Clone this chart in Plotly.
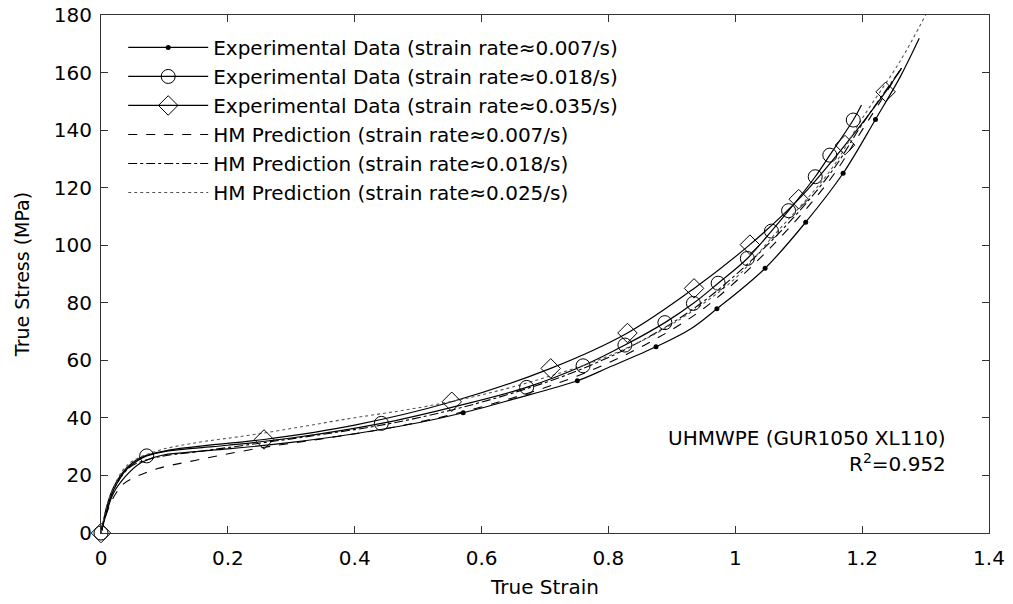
import plotly.graph_objects as go

# ---- Experimental data (strain rate ~0.007/s), solid line with dots
exp007_x = [0, 0.01, 0.02, 0.04, 0.06, 0.08, 0.1, 0.15, 0.2, 0.3, 0.4, 0.5, 0.571, 0.65, 0.751, 0.8, 0.875, 0.93, 0.971, 1.047, 1.111, 1.17, 1.221, 1.26, 1.29]
exp007_y = [0, 8, 14, 20, 24, 26, 27.2, 28.3, 29.2, 31.5, 34.5, 38.3, 41.8, 46.5, 52.9, 57.5, 64.7, 71, 77.9, 92.0, 108.0, 125.0, 143.7, 158.5, 171.9]
exp007_mx = [0.571, 0.751, 0.875, 0.971, 1.047, 1.111, 1.17, 1.221]
exp007_my = [41.8, 52.9, 64.7, 77.9, 92.0, 108.0, 125.0, 143.7]

# ---- Experimental data (strain rate ~0.018/s), solid line with circles
exp018_x = [0, 0.01, 0.02, 0.04, 0.06, 0.072, 0.1, 0.15, 0.2, 0.3, 0.442, 0.55, 0.671, 0.76, 0.826, 0.889, 0.934, 0.973, 1.019, 1.057, 1.084, 1.126, 1.149, 1.186, 1.199]
exp018_y = [0, 9, 15, 22, 25.5, 26.8, 28.3, 29.5, 30.5, 33, 38.1, 43.5, 50.6, 58.1, 65.3, 73.1, 79.8, 86.8, 95.4, 104.9, 112.0, 123.8, 131.3, 143.5, 148.7]
exp018_mx = [0, 0.072, 0.442, 0.671, 0.76, 0.826, 0.889, 0.934, 0.973, 1.019, 1.057, 1.084, 1.126, 1.149, 1.186]
exp018_my = [0, 26.8, 38.1, 50.6, 58.1, 65.3, 73.1, 79.8, 86.8, 95.4, 104.9, 112.0, 123.8, 131.3, 143.5]

# ---- Experimental data (strain rate ~0.035/s), solid line with diamonds
exp035_x = [0, 0.01, 0.02, 0.04, 0.06, 0.1, 0.15, 0.257, 0.4, 0.553, 0.709, 0.83, 0.935, 1.023, 1.1, 1.173, 1.237, 1.262]
exp035_y = [0, 10, 16, 22.5, 26, 28.5, 30, 32.5, 37.5, 45.6, 57.2, 69.5, 85, 100.2, 116, 134.8, 153.3, 161.5]
exp035_mx = [0, 0.257, 0.553, 0.709, 0.83, 0.935, 1.023, 1.1, 1.173, 1.237]
exp035_my = [0, 32.5, 45.6, 57.2, 69.5, 85, 100.2, 116, 134.8, 153.3]

# ---- HM predictions
hm007_x = [0, 0.005, 0.01, 0.02, 0.035, 0.05, 0.088, 0.15, 0.25, 0.35, 0.45, 0.55, 0.65, 0.75, 0.85, 0.95, 1.057, 1.15, 1.2, 1.262]
hm007_y = [0, 4, 7.5, 12.5, 17, 19, 22.3, 25.3, 29.5, 32.8, 36.3, 41, 47, 54.5, 64.5, 78, 99.5, 123, 140, 161.5]

hm018_x = [0, 0.005, 0.01, 0.02, 0.035, 0.05, 0.088, 0.15, 0.25, 0.35, 0.45, 0.55, 0.65, 0.75, 0.85, 0.95, 1.057, 1.15, 1.2, 1.262]
hm018_y = [0, 5, 9, 15, 20.5, 23.5, 26.3, 28.2, 31.2, 34.3, 37.8, 42.6, 48.7, 56.3, 66.5, 80.5, 101.5, 125, 142, 161.5]

hm025_x = [0, 0.005, 0.01, 0.02, 0.035, 0.05, 0.088, 0.14, 0.25, 0.393, 0.5, 0.6, 0.7, 0.8, 0.9, 1.0, 1.057, 1.15, 1.2, 1.26, 1.3]
hm025_y = [0, 5.5, 10, 16, 22, 25, 28.5, 31, 34.5, 39.8, 43.5, 48, 54, 61.5, 72.5, 88.5, 102.5, 126, 144, 164, 180]

legend_names = [
    "Experimental Data (strain rate\u22480.007/s)",
    "Experimental Data (strain rate\u22480.018/s)",
    "Experimental Data (strain rate\u22480.035/s)",
    "HM Prediction (strain rate\u22480.007/s)",
    "HM Prediction (strain rate\u22480.018/s)",
    "HM Prediction (strain rate\u22480.025/s)",
]

x_ticks = [0, 0.2, 0.4, 0.6, 0.8, 1, 1.2, 1.4]
x_tick_labels = ["0", "0.2", "0.4", "0.6", "0.8", "1", "1.2", "1.4"]
y_ticks = [0, 20, 40, 60, 80, 100, 120, 140, 160, 180]

BLACK = "#000000"
fig = go.Figure()

# lines
fig.add_trace(go.Scatter(x=exp007_x, y=exp007_y, mode="lines", line=dict(color=BLACK, width=1.2, shape="spline"), showlegend=False))
fig.add_trace(go.Scatter(x=exp018_x, y=exp018_y, mode="lines", line=dict(color=BLACK, width=1.2, shape="spline"), showlegend=False))
fig.add_trace(go.Scatter(x=exp035_x, y=exp035_y, mode="lines", line=dict(color=BLACK, width=1.2, shape="spline"), showlegend=False))
fig.add_trace(go.Scatter(x=hm007_x, y=hm007_y, mode="lines", line=dict(color=BLACK, width=1.1, dash="dash", shape="spline"), name=legend_names[3], legendrank=4))
fig.add_trace(go.Scatter(x=hm018_x, y=hm018_y, mode="lines", line=dict(color=BLACK, width=1.1, dash="dashdot", shape="spline"), name=legend_names[4], legendrank=5))
fig.add_trace(go.Scatter(x=hm025_x, y=hm025_y, mode="lines", line=dict(color="#555555", width=1.1, dash="dot", shape="spline"), name=legend_names[5], legendrank=6))

# markers
fig.add_trace(go.Scatter(x=exp007_mx, y=exp007_my, mode="markers", marker=dict(symbol="circle", size=5, color=BLACK), showlegend=False, cliponaxis=False))
fig.add_trace(go.Scatter(x=exp018_mx, y=exp018_my, mode="markers", marker=dict(symbol="circle-open", size=14, color=BLACK, line=dict(width=1)), showlegend=False, cliponaxis=False))
fig.add_trace(go.Scatter(x=exp035_mx, y=exp035_my, mode="markers", marker=dict(symbol="diamond-open", size=15, color=BLACK, line=dict(width=1)), showlegend=False, cliponaxis=False))

# legend entries for experimental data
fig.add_trace(go.Scatter(x=[None], y=[None], mode="lines+markers", name=legend_names[0], legendrank=1,
                         line=dict(color=BLACK, width=1.2), marker=dict(symbol="circle", size=5, color=BLACK)))
fig.add_trace(go.Scatter(x=[None], y=[None], mode="lines+markers", name=legend_names[1], legendrank=2,
                         line=dict(color=BLACK, width=1.2), marker=dict(symbol="circle-open", size=14, color=BLACK, line=dict(width=1))))
fig.add_trace(go.Scatter(x=[None], y=[None], mode="lines+markers", name=legend_names[2], legendrank=3,
                         line=dict(color=BLACK, width=1.2), marker=dict(symbol="diamond-open", size=15, color=BLACK, line=dict(width=1))))

FONT = "DejaVu Sans, Liberation Sans, Arial, sans-serif"
axis_common = dict(
    showline=True, linecolor="#333333", linewidth=1, mirror="ticks",
    ticks="inside", ticklen=7, tickcolor="#333333",
    showgrid=False, zeroline=False, automargin=False, ticklabeloverflow="allow",
    tickfont=dict(family=FONT, size=20, color=BLACK),
)

fig.update_layout(
    width=1013, height=604,
    margin=dict(l=101, r=24, t=15, b=71),
    paper_bgcolor="white", plot_bgcolor="white",
    font=dict(family=FONT, size=20, color=BLACK),
    hovermode=False,
    xaxis=dict(range=[0, 1.4], tickvals=x_ticks, ticktext=x_tick_labels, ticklabelstandoff=7,
               title=dict(text="True Strain", font=dict(family=FONT, size=20), standoff=10), **axis_common),
    yaxis=dict(range=[0, 180], tickvals=y_ticks, ticklabelstandoff=4,
               title=dict(text="True Stress (MPa)", font=dict(family=FONT, size=19), standoff=19), **axis_common),
    legend=dict(x=0.025, y=0.975, xanchor="left", yanchor="top", bgcolor="rgba(0,0,0,0)",
                borderwidth=0, font=dict(family=FONT, size=20), itemwidth=80, tracegroupgap=0),
    annotations=[
        dict(x=0.9535, y=0.183, xref="paper", yref="paper", xanchor="right", yanchor="middle",
             text="UHMWPE (GUR1050 XL110)", showarrow=False, font=dict(family=FONT, size=20)),
        dict(x=0.9535, y=0.135, xref="paper", yref="paper", xanchor="right", yanchor="middle",
             text="R<sup>2</sup>=0.952", showarrow=False, font=dict(family=FONT, size=20)),
    ],
)

# remove the browser's default 8px page margin so the figure fills the window exactly
fig.write_html("out.html", config={"displayModeBar": False},
               post_script="document.body.style.margin='0';document.body.style.overflow='hidden';")
